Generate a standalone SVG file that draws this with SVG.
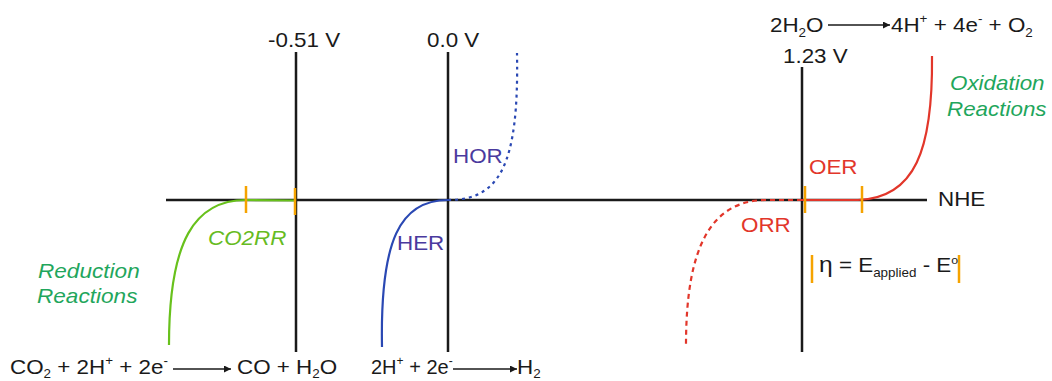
<svg xmlns="http://www.w3.org/2000/svg" width="1052" height="381" viewBox="0 0 1052 381">
<style>
text{font-family:"Liberation Sans",Arial,sans-serif;font-size:20px;fill:#1a1a1a}
.axis{stroke:#1a1a1a;stroke-width:2.5;fill:none}
.tick{stroke:#f5a300;stroke-width:2.5;fill:none}
.curve{fill:none;stroke-width:2.2}
.green{stroke:#68c11c}
.blue{stroke:#2a48b3}
.red{stroke:#e2362a}
.dot{stroke-dasharray:3 4}
.dash{stroke-dasharray:5 4}
.rxn{stroke:#1a1a1a;stroke-width:1.5;fill:none}
.it{font-style:italic}
.lime{fill:#66bb22}
.teal{fill:#1fa65c}
.purp{fill:#4a3a9e}
.redt{fill:#e2362a}
.s{font-size:12px}
.s2{font-size:11px}
</style>
<defs>
<marker id="ah" viewBox="0 0 10 10" refX="10" refY="5" markerWidth="8" markerHeight="7" markerUnits="userSpaceOnUse" orient="auto">
<path d="M0,0 L10,5 L0,10 z" fill="#1a1a1a"/>
</marker>
</defs>
<g id="axes">
<line class="axis" x1="166" y1="200" x2="927" y2="200"/>
<line class="axis" x1="296" y1="52" x2="296" y2="352"/>
<line class="axis" x1="448" y1="52" x2="448" y2="352"/>
<line class="axis" x1="802" y1="67" x2="802" y2="352"/>
<text transform="translate(938,206) scale(1.12,1)">NHE</text>
<text transform="translate(268,47) scale(1.12,1)">-0.51 V</text>
<text transform="translate(427,47) scale(1.12,1)">0.0 V</text>
<text transform="translate(783,63) scale(1.12,1)">1.23 V</text>
</g>
<g id="co2rr">
<path class="curve green" d="M169,345 C169,240 195,200 246,200 L295,200.5"/>
<line class="tick" x1="246" y1="186" x2="246" y2="213"/>
<line class="tick" x1="295" y1="188" x2="295" y2="215"/>
<text class="it lime" transform="translate(208,245) scale(1.12,1)">CO2RR</text>
</g>
<g id="her">
<path class="curve blue" d="M382,347 C380,240 400,200 448,200"/>
<text class="purp" transform="translate(397,250) scale(1.12,1)">HER</text>
</g>
<g id="hor">
<path class="curve blue dot" d="M448,200 C500,200 519,165 517,53"/>
<text class="purp" transform="translate(453,163) scale(1.12,1)">HOR</text>
</g>
<g id="oer">
<path class="curve red" d="M802,200 L858,200 C915,198 933,150 932,56"/>
<line class="tick" x1="805" y1="186" x2="805" y2="213"/>
<line class="tick" x1="862" y1="186" x2="862" y2="213"/>
<text class="redt" transform="translate(809,174) scale(1.12,1)">OER</text>
</g>
<g id="orr">
<path class="curve red dash" d="M802,200 L765,200 C712,201 686,245 686,345"/>
<text class="redt" transform="translate(741,232) scale(1.12,1)">ORR</text>
</g>
<g id="overpotential">
<line class="tick" x1="812" y1="255" x2="812" y2="283"/>
<line class="tick" x1="959" y1="255" x2="959" y2="283"/>
<text transform="translate(819,272) scale(1.12,1)"><tspan font-size="22">η</tspan> = E<tspan class="s" dy="5">applied</tspan><tspan dy="-5"> - E</tspan><tspan class="s2" dy="-8">o</tspan></text>
</g>
<g id="reduction-label">
<text class="it teal" transform="translate(38,278) scale(1.13,1)">Reduction</text>
<text class="it teal" transform="translate(37,303) scale(1.13,1)">Reactions</text>
</g>
<g id="oxidation-label">
<text class="it teal" transform="translate(950,90) scale(1.12,1)">Oxidation</text>
<text class="it teal" transform="translate(947,116) scale(1.12,1)">Reactions</text>
</g>
<g id="reactions">
<text transform="translate(10,374) scale(1.12,1)">CO<tspan class="s" dy="4">2</tspan><tspan dy="-4"> + 2H</tspan><tspan class="s" dy="-9">+</tspan><tspan dy="9"> + 2e</tspan><tspan class="s" dy="-9">-</tspan></text>
<text transform="translate(237,374) scale(1.12,1)">CO + H<tspan class="s" dy="4">2</tspan><tspan dy="-4">O</tspan></text>
<text transform="translate(371,374)">2H<tspan class="s" dy="-9">+</tspan><tspan dy="9"> + 2e</tspan><tspan class="s" dy="-9">-</tspan></text>
<text transform="translate(517,374) scale(1.12,1)">H<tspan class="s" dy="4">2</tspan></text>
<text transform="translate(770,32) scale(1.12,1)">2H<tspan class="s" dy="5">2</tspan><tspan dy="-5">O</tspan></text>
<text transform="translate(891,32) scale(1.12,1)">4H<tspan class="s" dy="-9">+</tspan><tspan dy="9"> + 4e</tspan><tspan class="s" dy="-9">-</tspan><tspan dy="9"> + O</tspan><tspan class="s" dy="5">2</tspan></text>
</g>
<g id="connectors">
<line class="rxn" x1="173" y1="369" x2="231" y2="369" marker-end="url(#ah)"/>
<line class="rxn" x1="453" y1="369" x2="517" y2="369" marker-end="url(#ah)"/>
<line class="rxn" x1="828" y1="25" x2="890" y2="25" marker-end="url(#ah)"/>
</g>
</svg>
